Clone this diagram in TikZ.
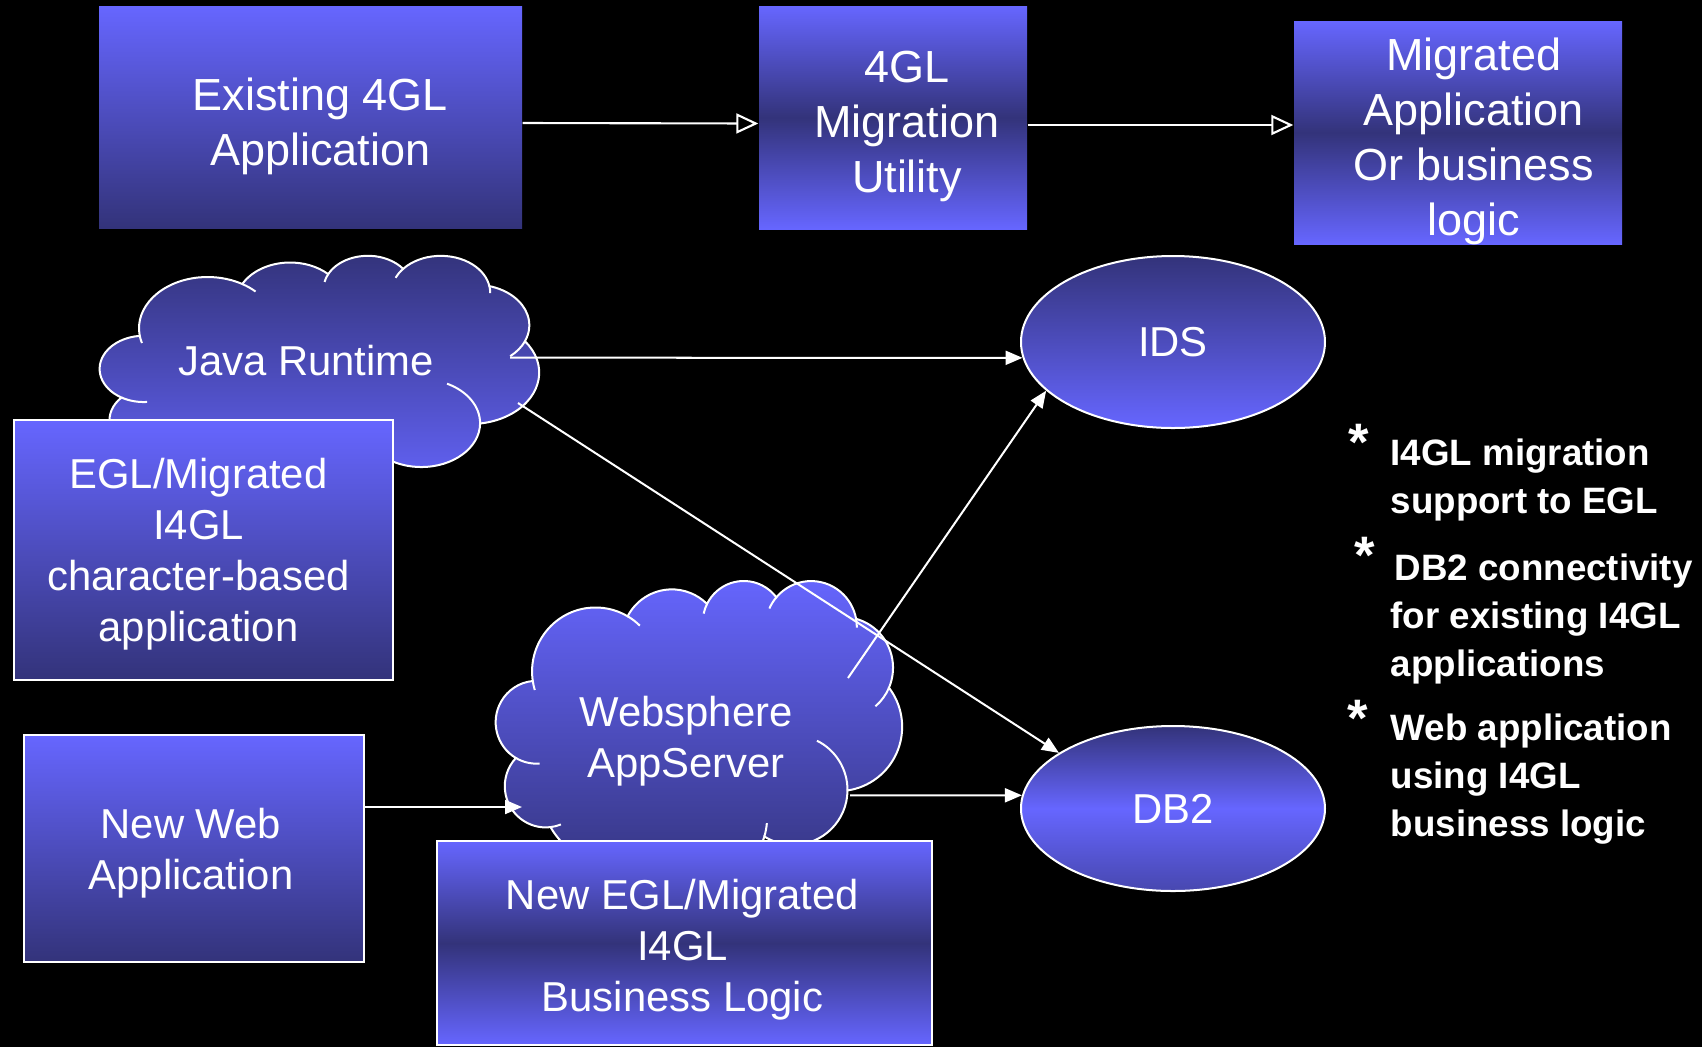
\documentclass[tikz,border=0pt]{standalone}
\usepackage{fontspec}
\setmainfont{Liberation Sans}
\usetikzlibrary{arrows.meta,shapes.geometric}
\definecolor{pptlight}{RGB}{102,102,255}
\definecolor{pptdark}{RGB}{51,51,122}

% cloud: corner x, corner y, width, height, top colour, bottom colour
\newcommand{\pptcloud}[6]{%
  \pgfmathsetmacro{\cldx}{#3/43.2}%
  \pgfmathsetmacro{\cldy}{#4/43.2}%
  \begin{scope}[shift={(#1,#2)}, x=\cldx cm, y=-\cldy cm]
    \shadedraw[top color=#5, bottom color=#6, draw=white, line width=0.57pt]
      (3.900,14.370)
      arc[start angle=-187.75, end angle=-59.64, x radius=6.753, y radius=9.190]
      arc[start angle=-152.02, end angle=-45.45, x radius=5.333, y radius=7.267]
      arc[start angle=-153.49, end angle=-37.33, x radius=4.365, y radius=5.945]
      arc[start angle=-139.71, end angle=-10.22, x radius=4.857, y radius=6.595]
      arc[start angle=-74.77, end angle=23.22, x radius=5.333, y radius=7.273]
      arc[start angle=-37.52, end angle=81.86, x radius=6.775, y radius=9.220]
      arc[start angle=0.46, end angle=121.96, x radius=5.785, y radius=7.867]
      arc[start angle=16.85, end angle=146.23, x radius=6.752, y radius=9.215]
      arc[start angle=58.98, end angle=150.20, x radius=7.720, y radius=10.543]
      arc[start angle=-276.69, end angle=-136.88, x radius=4.360, y radius=5.918]
      arc[start angle=-239.65, end angle=-95.89, x radius=4.345, y radius=5.945]
      -- cycle;
    \draw[white, line width=0.57pt]
      (4.645,26.339) arc[start angle=85.54, end angle=120.35, x radius=4.345, y radius=5.945]
      (6.910,35.086) arc[start angle=68.24, end angle=83.31, x radius=4.360, y radius=5.918]
      (16.479,39.262) arc[start angle=146.23, end angle=158.47, x radius=6.752, y radius=9.215]
      (28.821,34.899) arc[start angle=4.73, end angle=16.85, x radius=6.752, y radius=9.215]
      (34.150,23.064) arc[start angle=-64.03, end angle=0.46, x radius=5.785, y radius=7.867]
      (41.818,15.458) arc[start angle=23.22, end angle=49.65, x radius=5.333, y radius=7.273]
      (38.318,5.572) arc[start angle=-10.22, end angle=0.82, x radius=4.857, y radius=6.595]
      (29.090,4.091) arc[start angle=-156.30, end angle=-139.71, x radius=4.857, y radius=6.595]
      (22.097,4.821) arc[start angle=-167.73, end angle=-153.49, x radius=4.365, y radius=5.945]
      (14.006,5.200) arc[start angle=-59.64, end angle=-45.73, x radius=6.753, y radius=9.190]
      (4.127,15.788) arc[start angle=163.19, end angle=172.25, x radius=6.753, y radius=9.190];
  \end{scope}}

\begin{document}
\begin{tikzpicture}[
    topbox/.style={rectangle, inner sep=0pt},
    lowbox/.style={rectangle, draw=white, line width=0.57pt, inner sep=0pt},
    toplabel/.style={text=white, align=center, inner sep=0pt, yshift=-0.09cm,
      font=\fontsize{12.8}{15.6}\selectfont},
    lowlabel/.style={text=white, align=center, inner sep=0pt,
      font=\fontsize{11.9}{14.5}\selectfont},
    downshade/.style={top color=pptlight, bottom color=pptdark},
    midshade/.style={top color=pptlight, bottom color=pptlight, middle color=pptdark},
    dbnode/.style={ellipse, draw=white, line width=0.57pt, inner sep=0pt,
      text=white, font=\fontsize{11.9}{14.5}\selectfont},
    cloudtext/.style={text=white, align=center, inner sep=0pt,
      font=\fontsize{11.9}{14.5}\selectfont},
    flow/.style={draw=white, line width=0.57pt, -{Triangle[length=0.17cm,width=0.14cm]}},
    migflow/.style={draw=white, line width=0.6pt, -{Triangle[open,length=0.22cm,width=0.2cm]}},
    bulletstar/.style={anchor=base, inner sep=0pt, text=white,
      font=\bfseries\fontsize{15}{15}\selectfont},
    bullettext/.style={anchor=north west, inner sep=0pt, text=white, align=left,
      font=\bfseries\fontsize{10.45}{13.7}\selectfont}]
    \useasboundingbox (0,0) rectangle (17.02,-10.47);
    \fill[black] (0,0) rectangle (17.02,-10.47);

    \pptcloud{1.00}{-2.55}{4.39}{2.41}{pptdark}{pptlight}
    \pptcloud{4.96}{-5.80}{4.06}{3.01}{pptlight}{pptdark}
    \node[cloudtext] (jr) at (3.06,-3.61) {Java Runtime};
    \node[cloudtext] (ws) at (6.86,-7.41) {Websphere\\AppServer};

    \node[topbox, downshade, minimum width=4.23cm, minimum height=2.22cm,
      label={[toplabel, xshift=0.10cm]center:{Existing 4GL\\Application}}] (exist) at (3.105,-1.17) {};
    \node[topbox, midshade, minimum width=2.68cm, minimum height=2.23cm,
      label={[toplabel, xshift=0.14cm]center:{4GL\\Migration\\Utility}}] (util) at (8.93,-1.175) {};
    \node[topbox, midshade, minimum width=3.28cm, minimum height=2.23cm,
      label={[toplabel, xshift=0.16cm]center:{Migrated\\Application\\Or business\\logic}}] (migr) at (14.58,-1.325) {};

    \node[lowbox, downshade, minimum width=3.79cm, minimum height=2.60cm,
      label={[lowlabel, xshift=-0.05cm, yshift=-0.045cm]center:{EGL/Migrated\\I4GL\\character-based\\application}}] (egl) at (2.035,-5.50) {};
    \node[lowbox, downshade, minimum width=3.40cm, minimum height=2.27cm,
      label={[lowlabel, xshift=-0.03cm, yshift=-0.05cm]center:{New Web\\Application}}] (newweb) at (1.94,-8.485) {};
    \node[lowbox, midshade, minimum width=4.95cm, minimum height=2.04cm,
      label={[lowlabel, xshift=-0.02cm, yshift=-0.065cm]center:{New EGL/Migrated\\I4GL\\Business Logic}}] (newegl) at (6.845,-9.43) {};

    \node[dbnode, top color=pptdark, bottom color=pptlight, minimum width=3.04cm, minimum height=1.72cm] (ids) at (11.73,-3.42) {IDS};
    \node[dbnode, top color=pptdark, bottom color=pptdark!60!pptlight, middle color=pptlight, minimum width=3.04cm, minimum height=1.65cm] (db2) at (11.73,-8.085) {DB2};

    \coordinate (jrA) at (5.10,-3.577);
    \coordinate (jrB) at (5.18,-4.03);
    \coordinate (wsA) at (8.48,-6.78);
    \coordinate (wsB) at (8.50,-7.954);
    \coordinate (wsC) at (5.22,-8.07);

    \draw[migflow] ([yshift=-0.06cm]exist.east) -- ([yshift=-0.06cm]util.west);
    \draw[migflow] ([yshift=-0.075cm]util.east) -- ([yshift=0.075cm]migr.west);
    \draw[flow] (jrA) -- (ids.186);
    \draw[flow] (jrB) -- (db2.154);
    \draw[flow] (wsA) -- (ids.201);
    \draw[flow] (wsB) -- (db2.175);
    \draw[flow] (newweb.east |- wsC) -- (wsC);

    \node[bulletstar] (s1) at (13.585,-4.60) {*};
    \node[bullettext] (n1) at (13.90,-4.38) {I4GL migration\\support to EGL};
    \node[bulletstar] (s2) at (13.65,-5.735) {*};
    \node[bullettext] (n2) at (13.90,-5.53) {\hspace*{0.04cm}DB2 connectivity\\for existing I4GL\\applications};
    \node[bulletstar] (s3) at (13.58,-7.36) {*};
    \node[bullettext] (n3) at (13.90,-7.13) {Web application\\using I4GL\\business logic};
\end{tikzpicture}
\end{document}
